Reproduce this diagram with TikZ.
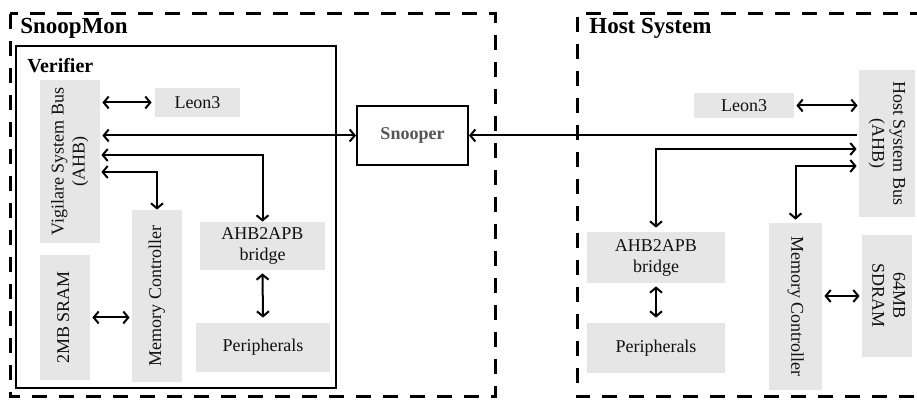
\documentclass[tikz,border=0pt]{standalone}
\usepackage{fontspec}
\setmainfont{Liberation Serif}
\usepackage{graphicx}
\usetikzlibrary{arrows.meta, positioning}
\definecolor{boxgray}{HTML}{E6E6E6}
\definecolor{ink}{HTML}{111111}
\definecolor{snoopgray}{HTML}{555555}
\newcommand{\rotup}[1]{\rotatebox{90}{\begin{tabular}{@{}c@{}}#1\end{tabular}}}
\newcommand{\rotdown}[1]{\rotatebox{-90}{\begin{tabular}{@{}c@{}}#1\end{tabular}}}

\begin{document}
\begin{tikzpicture}[x=0.5pt, y=-0.5pt,
  grp/.style={draw=black, line width=1.5pt, dash pattern=on 7.5pt off 6pt},
  frame/.style={draw=black, line width=1pt},
  blk/.style={fill=boxgray, inner sep=0pt, align=center, text=ink,
              font=\fontsize{9}{10.5}\selectfont},
  title/.style={anchor=west, inner sep=0pt, font=\bfseries\fontsize{11.5}{13}\selectfont},
  arr/.style={{Straight Barb[length=2.5pt,width=6pt]}-{Straight Barb[length=2.5pt,width=6pt]}, line width=1pt},
  oneway/.style={-{Straight Barb[length=2.5pt,width=6pt]}, line width=1pt},
]
\useasboundingbox (0,0) rectangle (917,410);

\draw[grp] (10,14) rectangle (495,397);
\draw[grp] (925,14) -- (577,14) -- (577,397) -- (925,397);
\draw[frame] (16,46) rectangle (336,388);

\node[title] (snoopmon) at (20,28) {SnoopMon};
\node[title] (host) at (589,28) {Host System};
\node[title, font=\bfseries\fontsize{10}{12}\selectfont] (verifier) at (27,66) {Verifier};

\node[blk, minimum width=30pt, minimum height=81.5pt] (vbus) at (70,161.5) {\rotup{Vigilare System Bus\\(AHB)}};
\node[blk, minimum width=42.5pt, minimum height=14.5pt] (lleon) at (197.5,102.5) {Leon3};
\node[frame, minimum width=55.5pt, minimum height=29.5pt, inner sep=0pt, text=snoopgray,
      font=\bfseries\fontsize{9}{10.5}\selectfont] (snooper) at (412.5,135.5) {Snooper};
\node[blk, minimum width=25pt, minimum height=86pt] (lmc) at (157,296) {\rotup{Memory Controller}};
\node[blk, minimum width=25pt, minimum height=62.5pt] (sram) at (65,317.5) {\rotup{2MB SRAM}};
\node[blk, minimum width=62.5pt, minimum height=24pt] (lbridge) at (262.5,246) {AHB2APB\\bridge};
\node[blk, minimum width=67pt, minimum height=24.5pt] (lperi) at (263,347.5) {Peripherals};

\node[blk, minimum width=28pt, minimum height=73.5pt] (hbus) at (887,143.5) {\rotdown{Host System Bus\\(AHB)}};
\node[blk, minimum width=50pt, minimum height=12.5pt] (rleon) at (744,105.5) {Leon3};
\node[blk, minimum width=69pt, minimum height=25.5pt] (rbridge) at (656,257.5) {AHB2APB\\bridge};
\node[blk, minimum width=69pt, minimum height=25pt] (rperi) at (656,348) {Peripherals};
\node[blk, minimum width=26.5pt, minimum height=83.5pt] (rmc) at (795.5,306.5) {\rotdown{Memory Controller}};
\node[blk, minimum width=25pt, minimum height=61pt] (sdram) at (887,296) {\rotdown{64MB\\SDRAM}};

\draw[arr] ([xshift=1pt]vbus.east |- lleon.west) -- ([xshift=-1.5pt]lleon.west);
\draw[arr] ([xshift=1pt]vbus.east |- snooper.west) -- (snooper.west);
\draw[arr] ([xshift=0.5pt,yshift=3.25pt]vbus.east) -| (lbridge.north);
\draw[arr] ([xshift=0.5pt,yshift=-5.25pt]vbus.east) -| (lmc.north);
\draw[arr] ([xshift=1pt]sram.east) -- ([xshift=-1pt]lmc.west |- sram.east);
\draw[arr] ([yshift=-1.5pt]lbridge.south) -- ([yshift=2.5pt]lperi.north);

\draw[arr] ([xshift=1pt]rleon.east) -- ([xshift=-0.5pt]hbus.west |- rleon.east);
\draw[oneway] ([xshift=-1pt]hbus.west |- snooper.east) -- (snooper.east);
\draw[arr] ([xshift=-1pt,yshift=-2.75pt]hbus.west) -| ([yshift=2pt]rbridge.north);
\draw[arr] ([xshift=-1pt,yshift=-11.25pt]hbus.west) -| ([yshift=1.5pt]rmc.north);
\draw[arr] ([yshift=-1.5pt]rbridge.south) -- ([yshift=2.5pt]rperi.north);
\draw[arr] ([xshift=1pt]rmc.east |- sdram.west) -- ([xshift=-1pt]sdram.west);
\end{tikzpicture}
\end{document}
